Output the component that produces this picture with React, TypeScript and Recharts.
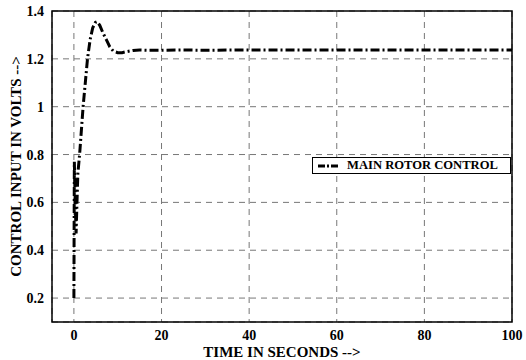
import {
  LineChart,
  Line,
  XAxis,
  YAxis,
  CartesianGrid,
  Legend,
  ReferenceArea,
} from "recharts";

// time (s) and main rotor control input (V)
const time = [
  0, 0.05, 0.1, 0.3, 0.5, 0.7, 0.9, 1.3, 1.7, 2.1, 2.6, 3.1, 3.7, 4.3, 4.9,
  5.3, 5.9, 6.6, 7.4, 8.2, 9.0, 10.0, 11.0, 12.0, 13.5, 15, 17, 20, 25, 30,
  40, 50, 60, 70, 80, 90, 100,
];
const control = [
  0.2, 0.5, 0.77, 0.6, 0.47, 0.6, 0.72, 0.8, 0.9, 1.0, 1.1, 1.2, 1.28, 1.33,
  1.352, 1.355, 1.34, 1.31, 1.28, 1.25, 1.232, 1.226, 1.226, 1.23, 1.235,
  1.237, 1.236, 1.236, 1.237, 1.236, 1.237, 1.237, 1.237, 1.237, 1.237,
  1.237, 1.237,
];
const xTicks = [0, 20, 40, 60, 80, 100];
const yTicks = [0.2, 0.4, 0.6, 0.8, 1, 1.2, 1.4];

const data = time.map((t, i) => ({ t, v: control[i] }));

const font = "'Liberation Serif', 'Times New Roman', serif";
const dash = "9 3 2 3";
const tickStyle = { fill: "#000", fontSize: 14, fontWeight: "bold", fontFamily: font };

function LegendBox() {
  return (
    <div
      style={{
        border: "1px solid #000",
        background: "#fff",
        height: 17,
        boxSizing: "border-box",
        display: "flex",
        alignItems: "center",
        padding: "0 4px",
        fontFamily: font,
        fontWeight: "bold",
        fontSize: 12.6,
        color: "#000",
        whiteSpace: "nowrap",
      }}
    >
      <svg width={22} height={6} style={{ marginRight: 8 }}>
        <line x1={1} y1={3} x2={21} y2={3} stroke="#000" strokeWidth={3} strokeDasharray="7 2 2 2" />
      </svg>
      MAIN ROTOR CONTROL
    </div>
  );
}

export default function App() {
  return (
    <div style={{ position: "absolute", left: 0, top: 0, background: "#fff", fontFamily: font }}>
      <LineChart
        width={526}
        height={360}
        data={data}
        margin={{ top: 11, right: 14, left: 0, bottom: 0 }}
        style={{ fontFamily: font }}
      >
        <CartesianGrid stroke="#777" strokeDasharray="6 5" />
        <XAxis
          dataKey="t"
          type="number"
          domain={[-5, 100]}
          ticks={xTicks}
          height={38}
          tickLine={false}
          axisLine={false}
          tick={{ ...tickStyle, style: { fontFamily: font } }}
          label={{
            value: "TIME IN SECONDS -->",
            position: "insideBottom",
            offset: 3,
            fill: "#000",
            fontSize: 15,
            fontWeight: "bold",
            fontFamily: font,
          }}
        />
        <YAxis
          type="number"
          domain={[0.1, 1.4]}
          ticks={yTicks}
          width={52}
          tickLine={false}
          axisLine={false}
          tick={{ ...tickStyle, style: { fontFamily: font } }}
          label={{
            value: "CONTROL INPUT IN VOLTS -->",
            angle: -90,
            position: "insideLeft",
            offset: 16,
            fill: "#000",
            fontSize: 15,
            fontWeight: "bold",
            fontFamily: font,
            style: { textAnchor: "middle" },
          }}
        />
        <ReferenceArea
          x1={-5}
          x2={100}
          y1={0.1}
          y2={1.4}
          fill="none"
          stroke="#000"
          strokeWidth={1.5}
          ifOverflow="visible"
        />
        <Legend
          layout="horizontal"
          verticalAlign="middle"
          align="center"
          content={() => <LegendBox />}
          wrapperStyle={{ position: "absolute", left: 312, top: 157, width: 199, height: 17 }}
        />
        <Line
          dataKey="v"
          type="linear"
          stroke="#000"
          strokeWidth={3}
          strokeDasharray={dash}
          dot={false}
          isAnimationActive={false}
        />
      </LineChart>
    </div>
  );
}
